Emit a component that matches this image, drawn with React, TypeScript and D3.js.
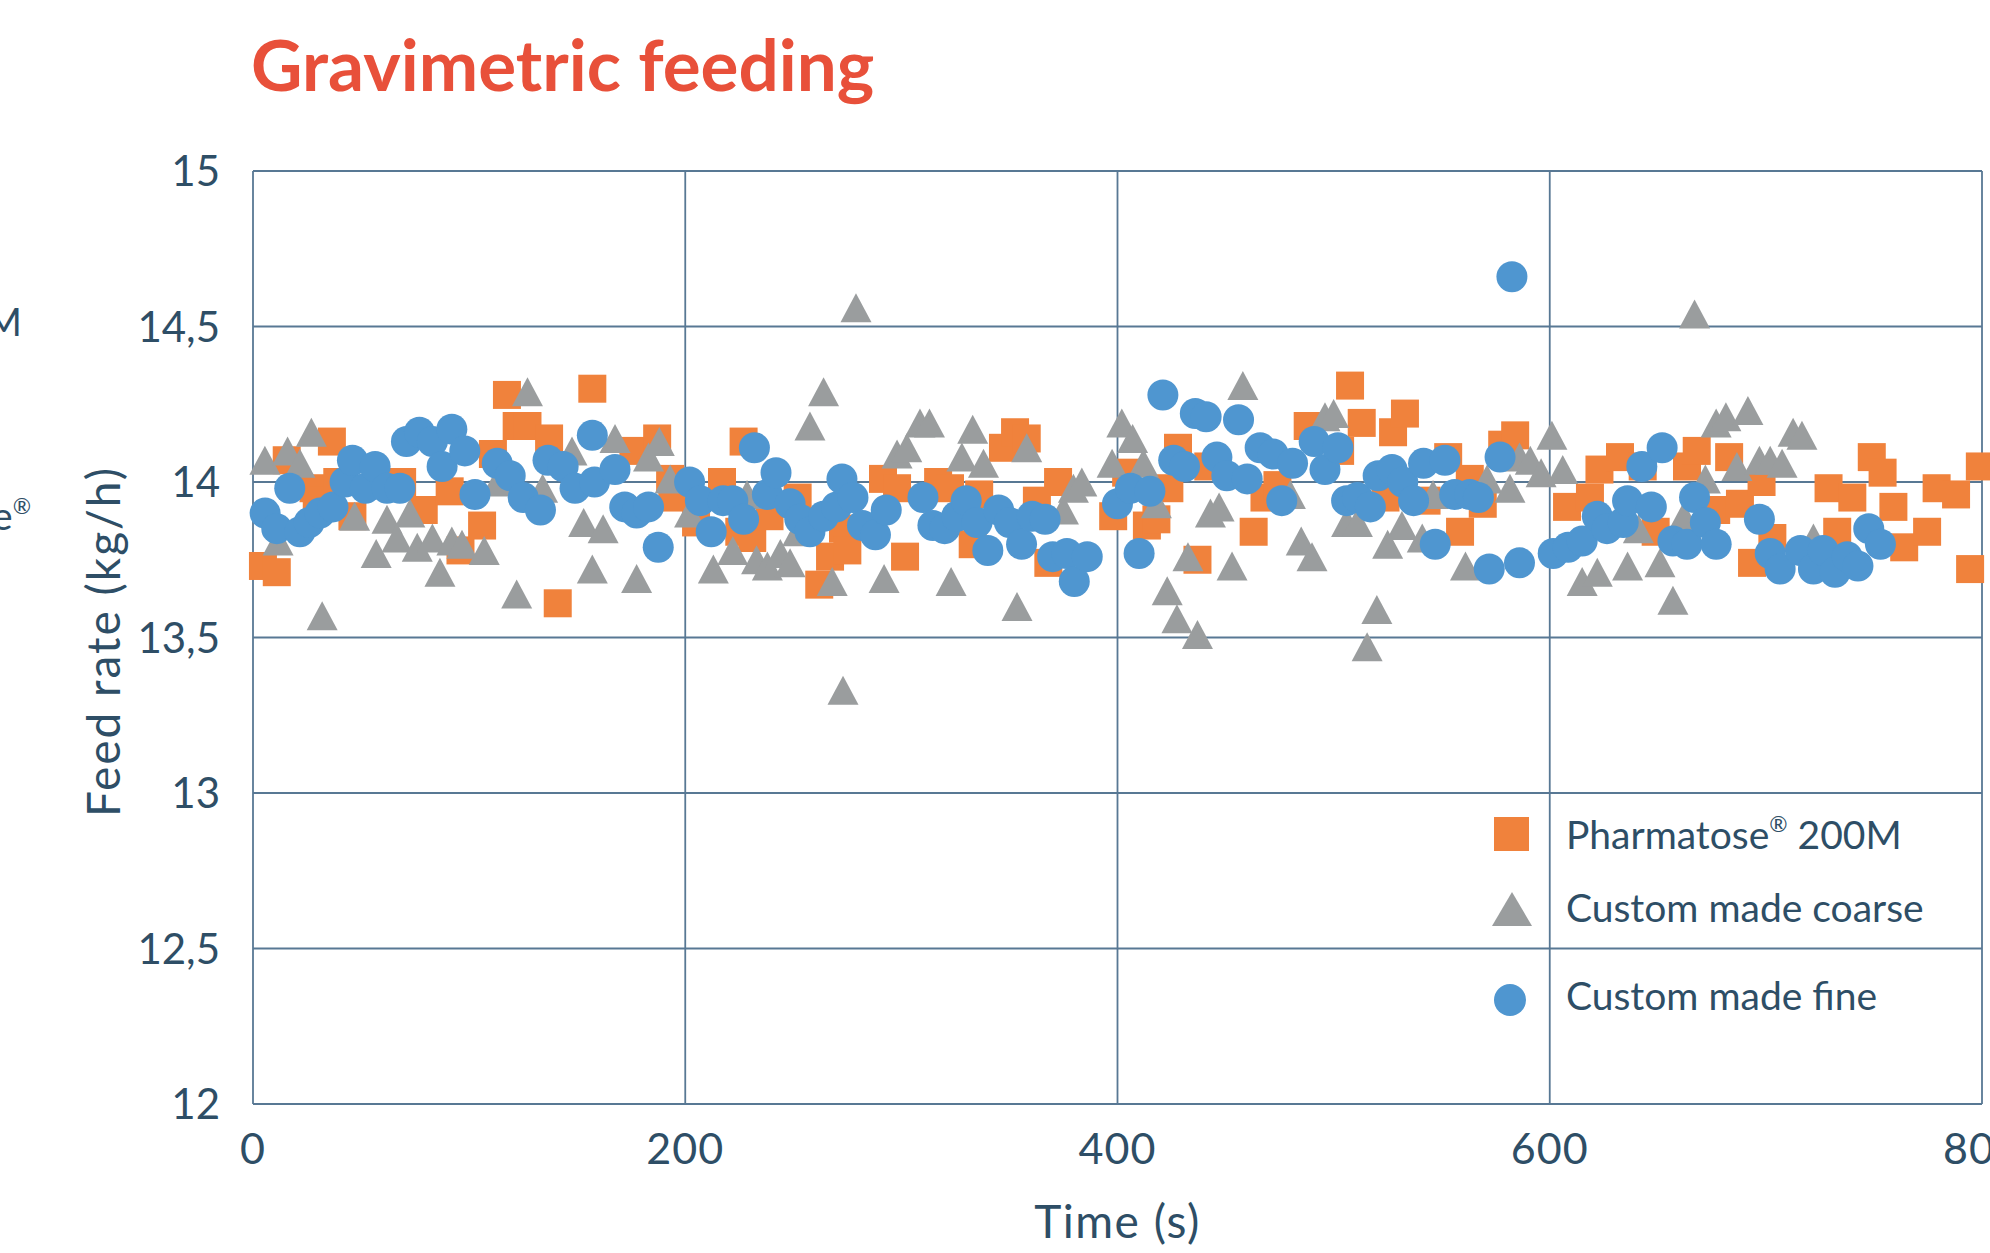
import React from 'react';
import * as d3 from 'd3';

// time (s), feed rate (kg/h)
const pharmatose: [number, number][] = [
  [4.6, 13.73], [11, 13.71], [15.6, 14.07], [28, 13.98], [29.5, 13.94], [36.5, 14.13], [39, 14.0], [46, 13.89],
  [69, 14.0], [79, 13.91], [91, 13.97], [96, 13.78], [106, 13.86], [111, 14.09], [117.5, 14.28], [122, 14.18],
  [127, 14.18], [137, 14.14], [141, 13.61], [157, 14.3], [176, 14.1], [187, 14.14], [193, 14.01], [194, 13.95],
  [205, 13.87], [217, 14.0], [225, 13.84], [227, 14.13], [231, 13.82], [239, 13.89], [252, 13.95], [262, 13.67],
  [267, 13.76], [273, 13.85], [275, 13.78], [291.5, 14.01], [298, 13.98], [301.7, 13.76], [317, 14.0], [322.5, 13.98],
  [333, 13.8], [336, 13.96], [347, 14.11], [352.6, 14.16], [358, 14.14], [362.7, 13.94], [368, 13.74], [372.5, 14.0],
  [398, 13.89], [404, 14.03], [413.6, 13.86], [418, 13.88], [424, 13.98], [428, 14.11], [437, 13.75], [442, 14.05],
  [463, 13.84], [468, 13.95], [474, 13.99], [488, 14.18], [503, 14.1], [507.6, 14.31], [513, 14.19], [524, 13.95],
  [527.5, 14.16], [533, 14.22], [543, 13.94], [553, 14.08], [558.5, 13.84], [563, 14.01], [569, 13.93], [578, 14.12],
  [584, 14.15], [608, 13.92], [618.6, 13.95], [623, 14.04], [632.5, 14.08], [643, 14.05], [649, 13.84], [663.5, 14.05],
  [668, 14.1], [677, 13.91], [683, 14.08], [688, 13.93], [693.6, 13.74], [698, 14.0], [703, 13.82], [729, 13.98],
  [733, 13.84], [740, 13.95], [749, 14.08], [754, 14.03], [759, 13.92], [764, 13.79], [774.6, 13.84], [779, 13.98],
  [788, 13.96], [794.5, 13.72], [799, 14.05],
];

const coarse: [number, number][] = [
  [5.5, 14.07], [11.6, 13.81], [16, 14.1], [21.7, 14.06], [27, 14.16], [32, 13.57], [47, 13.89], [57, 13.77],
  [62, 13.88], [66.6, 13.82], [72.6, 13.9], [76, 13.79], [83, 13.82], [86.5, 13.71], [92, 13.81], [96.7, 13.8],
  [107, 13.78], [113, 14.0], [122, 13.64], [127, 14.29], [134, 13.98], [147.6, 14.1], [153, 13.87], [157, 13.72],
  [162, 13.85], [167.5, 14.14], [177.5, 13.69], [183, 14.08], [188, 14.13], [193, 14.01], [202, 13.9], [213, 13.72],
  [222, 13.78], [228.6, 13.96], [233, 13.75], [238, 13.73], [244, 13.77], [248.5, 13.74], [252, 13.84], [257.7, 14.18],
  [264, 14.29], [268, 13.68], [273, 13.33], [279, 14.56], [292, 13.69], [298, 14.09], [302.5, 14.11], [308.6, 14.19],
  [313, 14.19], [323, 13.68], [328, 14.08], [333, 14.17], [338, 14.06], [353.5, 13.6], [358, 14.11], [375, 13.91],
  [379.6, 13.98], [383.5, 14.0], [397.5, 14.06], [402, 14.19], [407, 14.14], [412, 14.06], [418, 13.93], [423, 13.65],
  [427.5, 13.56], [432.6, 13.76], [437, 13.51], [443, 13.9], [447, 13.92], [453, 13.73], [458, 14.31], [480, 13.96],
  [485, 13.81], [490, 13.76], [496, 14.21], [500, 14.22], [506, 13.87], [511, 13.87], [515.5, 13.47], [520, 13.59],
  [525, 13.8], [531.6, 13.86], [541, 13.82], [546, 13.96], [561, 13.73], [571, 14.01], [581.6, 13.98], [586, 14.08],
  [591, 14.07], [596, 14.03], [601, 14.15], [606, 14.04], [615, 13.68], [622, 13.71], [636, 13.73], [641, 13.85],
  [651, 13.74], [657, 13.62], [662, 13.89], [667, 14.54], [672, 14.01], [677, 14.19], [681.5, 14.21], [686.6, 14.05],
  [691.7, 14.23], [697, 14.07], [702, 14.07], [707.5, 14.06], [712.6, 14.16], [716.7, 14.15], [722, 13.82],
];

const fine: [number, number][] = [
  [5.6, 13.9], [11, 13.85], [17, 13.98], [21.7, 13.84], [26, 13.87], [31, 13.9], [37, 13.92], [42.6, 14.0],
  [46, 14.07], [52, 13.98], [56.5, 14.05], [62, 13.98], [68, 13.98], [71, 14.13], [77, 14.16], [83, 14.13],
  [87.5, 14.05], [92, 14.17], [98, 14.1], [102.7, 13.96], [113, 14.06], [119, 14.02], [125, 13.95], [133, 13.91],
  [136.5, 14.07], [143.5, 14.05], [149, 13.98], [157, 14.15], [158, 14.0], [167.5, 14.04], [172, 13.92], [177.5, 13.9],
  [183, 13.92], [187.5, 13.79], [202, 14.0], [207, 13.94], [212, 13.84], [217.5, 13.94], [222, 13.94], [227, 13.88],
  [232, 14.11], [238, 13.96], [242, 14.03], [248.5, 13.93], [253, 13.88], [257.7, 13.84], [264, 13.89], [270, 13.92],
  [272.5, 14.01], [277.6, 13.95], [282, 13.86], [288, 13.83], [293, 13.91], [310, 13.95], [314.6, 13.86], [320, 13.85],
  [325.6, 13.89], [330, 13.94], [335, 13.87], [340, 13.78], [345, 13.91], [350, 13.87], [355.6, 13.8], [360.5, 13.89],
  [366.5, 13.88], [370, 13.76], [376.6, 13.77], [380, 13.68], [386, 13.76], [400, 13.93], [406, 13.98], [410, 13.77],
  [415, 13.97], [421, 14.28], [426, 14.07], [431, 14.05], [436, 14.22], [441, 14.21], [446, 14.08], [450.6, 14.02],
  [456, 14.2], [460, 14.01], [466, 14.11], [472, 14.09], [476, 13.94], [481, 14.06], [491, 14.13], [496, 14.04],
  [502, 14.11], [506, 13.94], [511, 13.95], [517, 13.92], [520.6, 14.02], [527, 14.04], [532, 14.0], [537, 13.94],
  [541.6, 14.06], [547, 13.8], [551.5, 14.07], [556, 13.96], [563, 13.96], [567, 13.95], [572, 13.72], [577, 14.08],
  [582.5, 14.66], [586, 13.74], [601.6, 13.77], [608.5, 13.79], [615, 13.81], [622, 13.89], [626.5, 13.85], [634, 13.87],
  [636, 13.94], [642.6, 14.05], [647, 13.92], [652, 14.11], [657, 13.81], [663.5, 13.8], [667, 13.95], [672, 13.87],
  [677, 13.8], [697, 13.88], [702, 13.77], [706.6, 13.72], [716, 13.78], [722, 13.72], [726.5, 13.78], [732, 13.71],
  [737.6, 13.76], [742.6, 13.73], [747.6, 13.85], [753, 13.8],
];

const xTicks = [0, 200, 400, 600, 800];
const yTicks = [12, 12.5, 13, 13.5, 14, 14.5, 15];
const yTickLabels = ['12', '12,5', '13', '13,5', '14', '14,5', '15'];
const seriesNames = ['Pharmatose', 'Custom made coarse', 'Custom made fine'];

const ORANGE = '#F0823C';
const GRAY = '#9A9D9E';
const BLUE = '#4F96D0';
const GRID = '#587894';
const TEXT = '#2E4E66';
const FONT = 'Lato, "Open Sans", sans-serif';

const W = 1990;
const H = 1253;
const plot = { left: 253, right: 1982, top: 171, bottom: 1104 };

const x = d3.scaleLinear().domain([0, 800]).range([plot.left, plot.right]);
const y = d3.scaleLinear().domain([12, 15]).range([plot.bottom, plot.top]);

const square = d3.symbol().type(d3.symbolSquare).size(28 * 28)() as string;
const tri = (w: number, h: number) => `M0,${-h / 2}L${w / 2},${h / 2}L${-w / 2},${h / 2}Z`;
const triangle = tri(31, 29);

export default function App() {
  return (
    <div style={{ position: 'absolute', left: 0, top: 0 }}>
      <svg width={W} height={H} style={{ display: 'block', background: '#fff' }} fontFamily={FONT}>
        <text x={251} y={91} fill="#E8503A" fontSize={71} fontWeight={700}>Gravimetric feeding</text>

        {/* clipped legend text from neighbouring chart */}
        <text x={22} y={336} textAnchor="end" fill={TEXT} fontSize={39}>200M</text>
        <text x={31} y={530} textAnchor="end" fill={TEXT} fontSize={39}>
          e<tspan fontSize={22} dy={-16}>®</tspan>
        </text>

        {/* grid */}
        {yTicks.map(t => (
          <line key={'gy' + t} x1={plot.left} x2={plot.right} y1={y(t)} y2={y(t)} stroke={GRID} strokeWidth={1.8} />
        ))}
        {xTicks.map(t => (
          <line key={'gx' + t} x1={x(t)} x2={x(t)} y1={plot.top} y2={plot.bottom} stroke={GRID} strokeWidth={1.8} />
        ))}

        {/* tick labels */}
        {yTicks.map((t, i) => (
          <text key={'ly' + t} x={220} y={y(t)} dy="0.36em" textAnchor="end" fill={TEXT} fontSize={42}>{yTickLabels[i]}</text>
        ))}
        {xTicks.map(t => (
          <text key={'lx' + t} x={x(t)} y={1164} textAnchor="middle" fill={TEXT} fontSize={43} letterSpacing={1}>{t}</text>
        ))}

        <text transform={`translate(120,${(plot.top + plot.bottom) / 2 + 4}) rotate(-90)`} textAnchor="middle" fill={TEXT}
          fontSize={46} letterSpacing={2}>
          Feed rate (kg/h)
        </text>
        <text x={(plot.left + plot.right) / 2} y={1238} textAnchor="middle" fill={TEXT} fontSize={46} letterSpacing={1.5}>Time (s)</text>

        {/* points */}
        {pharmatose.map((d, i) => (
          <path key={'p' + i} d={square} transform={`translate(${x(d[0])},${y(d[1])})`} fill={ORANGE} />
        ))}
        {coarse.map((d, i) => (
          <path key={'c' + i} d={triangle} transform={`translate(${x(d[0])},${y(d[1])})`} fill={GRAY} />
        ))}
        {fine.map((d, i) => (
          <circle key={'f' + i} cx={x(d[0])} cy={y(d[1])} r={15.5} fill={BLUE} />
        ))}

        {/* legend */}
        <g fill={TEXT} fontSize={39}>
          <rect x={1494} y={817} width={35} height={34} fill={ORANGE} />
          <text x={1566} y={849}>
            Pharmatose<tspan fontSize={22} dy={-17}>®</tspan><tspan dy={17}> 200M</tspan>
          </text>
          <path d={tri(40, 34)} transform="translate(1512,909)" fill={GRAY} />
          <text x={1566} y={922}>{seriesNames[1]}</text>
          <circle cx={1510} cy={1000} r={16} fill={BLUE} />
          <text x={1566} y={1010}>{seriesNames[2]}</text>
        </g>
      </svg>
    </div>
  );
}
